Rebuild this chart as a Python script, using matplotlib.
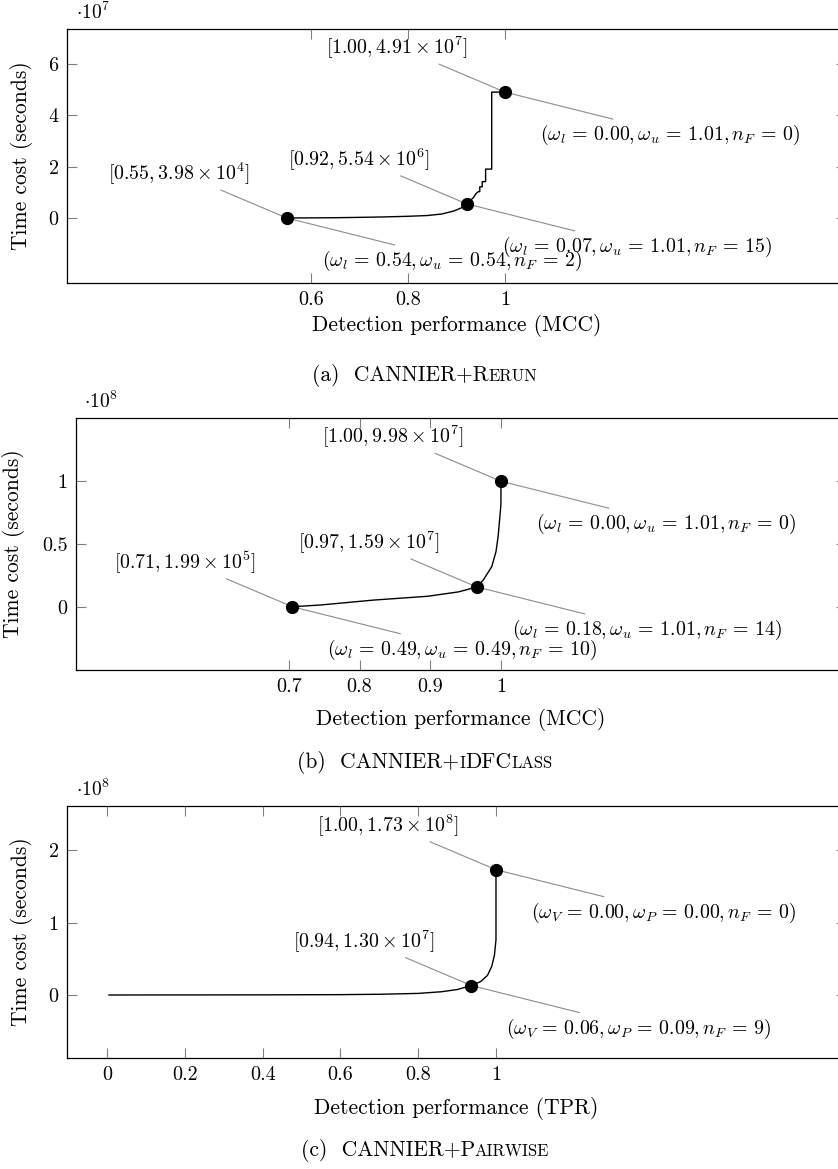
import matplotlib
matplotlib.use("Agg")
import matplotlib.pyplot as plt
from matplotlib.offsetbox import TextArea, HPacker, AnnotationBbox

plt.rcParams['font.family'] = 'serif'
plt.rcParams['font.serif'] = ['cmr10']
plt.rcParams['mathtext.fontset'] = 'cm'
plt.rcParams['axes.formatter.use_mathtext'] = True

# (a) CANNIER+Rerun, time in units of 1e7 s
perf_a = [0.55, 0.60, 0.65, 0.70, 0.75, 0.80, 0.84, 0.87, 0.895, 0.91, 0.921,
          0.935, 0.94, 0.945, 0.948, 0.948, 0.953, 0.953, 0.960, 0.960,
          0.9726, 0.9726, 1.0]
cost_a = [0.004, 0.008, 0.015, 0.028, 0.045, 0.07, 0.10, 0.16, 0.28, 0.40, 0.554,
          0.80, 0.95, 1.03, 1.03, 1.22, 1.22, 1.42, 1.42, 1.91,
          1.91, 4.91, 4.91]
mark_a = [(0.55, 0.00398), (0.921, 0.554), (1.00, 4.91)]
lab_a = [(r'$[0.55, 3.98\times10^{4}]$', r'$(\omega_l\,=\,0.54, \omega_u\,=\,0.54, n_F\,=\,2)$'),
         (r'$[0.92, 5.54\times10^{6}]$', r'$(\omega_l\,=\,0.07, \omega_u\,=\,1.01, n_F\,=\,15)$'),
         (r'$[1.00, 4.91\times10^{7}]$', r'$(\omega_l\,=\,0.00, \omega_u\,=\,1.01, n_F\,=\,0)$')]

# (b) CANNIER+iDFClass, time in units of 1e8 s
perf_b = [0.705, 0.745, 0.82, 0.896, 0.94, 0.966, 0.975, 0.987, 0.993, 0.996,
          0.999, 1.0, 1.0]
cost_b = [0.002, 0.016, 0.055, 0.085, 0.12, 0.159, 0.214, 0.32, 0.44, 0.56,
          0.75, 0.82, 0.998]
mark_b = [(0.705, 0.00199), (0.966, 0.159), (1.00, 0.998)]
lab_b = [(r'$[0.71, 1.99\times10^{5}]$', r'$(\omega_l\,=\,0.49, \omega_u\,=\,0.49, n_F\,=\,10)$'),
         (r'$[0.97, 1.59\times10^{7}]$', r'$(\omega_l\,=\,0.18, \omega_u\,=\,1.01, n_F\,=\,14)$'),
         (r'$[1.00, 9.98\times10^{7}]$', r'$(\omega_l\,=\,0.00, \omega_u\,=\,1.01, n_F\,=\,0)$')]

# (c) CANNIER+Pairwise, time in units of 1e8 s
perf_c = [0.005, 0.2, 0.4, 0.6, 0.7, 0.8, 0.86, 0.9, 0.937, 0.961, 0.978,
          0.989, 0.996, 1.0, 1.0]
cost_c = [0.0, 0.001, 0.002, 0.005, 0.01, 0.022, 0.045, 0.075, 0.13, 0.187, 0.27,
          0.393, 0.55, 0.76, 1.73]
mark_c = [(0.937, 0.13), (1.00, 1.73)]
lab_c = [(r'$[0.94, 1.30\times10^{7}]$', r'$(\omega_V\,=\,0.06, \omega_P\,=\,0.09, n_F\,=\,9)$'),
         (r'$[1.00, 1.73\times10^{8}]$', r'$(\omega_V\,=\,0.00, \omega_P\,=\,0.00, n_F\,=\,0)$')]

W, H = 838, 1169
fig = plt.figure(figsize=(W / 100, H / 100), dpi=100)

LABEL = 15.5
TICK = 14.5
NOTE = 14.3


def make_axes(left, top, right, bottom):
    return fig.add_axes([left / W, 1 - bottom / H, (right - left) / W, (bottom - top) / H])


def pin(ax, x, y, text, side):
    if side == 'ul':
        end, lab, ha = (-66, 28), (-37, 44), 'right'
    else:
        end, lab, ha = (108, -27), (35, -43), 'left'
    ax.annotate('', xy=(x, y), xytext=end, textcoords='offset pixels',
                arrowprops=dict(arrowstyle='-', color='0.55', lw=0.8,
                                shrinkA=0, shrinkB=0))
    ax.annotate(text, xy=(x, y), xytext=lab, textcoords='offset pixels',
                ha=ha, va='center', fontsize=NOTE)


def panel(ax, px, py, marks, labels, xlim, ylim, xticks, xtl, yticks, ytl,
          xlabel, expo, ylabx, xlaby):
    ax.plot(px, py, color='black', lw=1.0, zorder=3)
    for (mx, my), (t1, t2) in zip(marks, labels):
        pin(ax, mx, my, t1, 'ul')
        pin(ax, mx, my, t2, 'lr')
    ax.plot([m[0] for m in marks], [m[1] for m in marks], 'o', color='black',
            ms=8.5, zorder=4)
    ax.set_xlim(xlim)
    ax.set_ylim(ylim)
    ax.set_xticks(xticks)
    ax.set_xticklabels(xtl)
    ax.set_yticks(yticks)
    ax.set_yticklabels(ytl)
    ax.tick_params(direction='in', top=True, right=True, length=7.5, width=0.8,
                   color='0.5', labelsize=TICK, pad=6)
    for s in ax.spines.values():
        s.set_linewidth(0.9)
    ax.set_xlabel(xlabel, fontsize=LABEL)
    ax.xaxis.set_label_coords(0.5, xlaby)
    ax.set_ylabel('Time cost (seconds)', fontsize=LABEL)
    ax.yaxis.set_label_coords(ylabx, 0.5)
    ax.text(0.011, 1.022, r'$\cdot10^{%d}$' % expo, transform=ax.transAxes,
            fontsize=14, ha='left', va='bottom')


def caption(y, parts):
    kids = [TextArea(t, textprops=dict(size=s, family='serif')) for t, s in parts]
    box = HPacker(children=kids, align='baseline', pad=0, sep=0)
    ab = AnnotationBbox(box, (425 / W, 1 - y / H), xycoords='figure fraction',
                        frameon=False, box_alignment=(0.5, 0.5))
    fig.add_artist(ab)


ax1 = make_axes(67, 29, 846, 283)
panel(ax1, perf_a, cost_a, mark_a, lab_a, (0.097, 1.703), (-2.53, 7.37),
      [0.6, 0.8, 1.0], ['0.6', '0.8', '1'], [0, 2, 4, 6], ['0', '2', '4', '6'],
      'Detection performance (MCC)', 7, -0.044, -0.122)

ax2 = make_axes(76, 418, 846, 670)
panel(ax2, perf_b, cost_b, mark_b, lab_b, (0.399, 1.488), (-0.5, 1.5),
      [0.7, 0.8, 0.9, 1.0], ['0.7', '0.8', '0.9', '1'], [0, 0.5, 1],
      ['0', '0.5', '1'], 'Detection performance (MCC)', 8, -0.066, -0.15)

ax3 = make_axes(67, 806, 846, 1058)
panel(ax3, perf_c, cost_c, mark_c, lab_c, (-0.103, 1.90), (-0.87, 2.61),
      [0, 0.2, 0.4, 0.6, 0.8, 1.0], ['0', '0.2', '0.4', '0.6', '0.8', '1'],
      [0, 1, 2], ['0', '1', '2'], 'Detection performance (TPR)', 8, -0.044, -0.155)

SC = 12
caption(376, [('(a)  CANNIER+R', LABEL), ('ERUN', SC)])
caption(763, [('(b)  CANNIER+', LABEL), ('I', SC), ('DFC', LABEL), ('LASS', SC)])
caption(1150, [('(c)  CANNIER+P', LABEL), ('AIRWISE', SC)])

fig.savefig('out.png', dpi=100)
